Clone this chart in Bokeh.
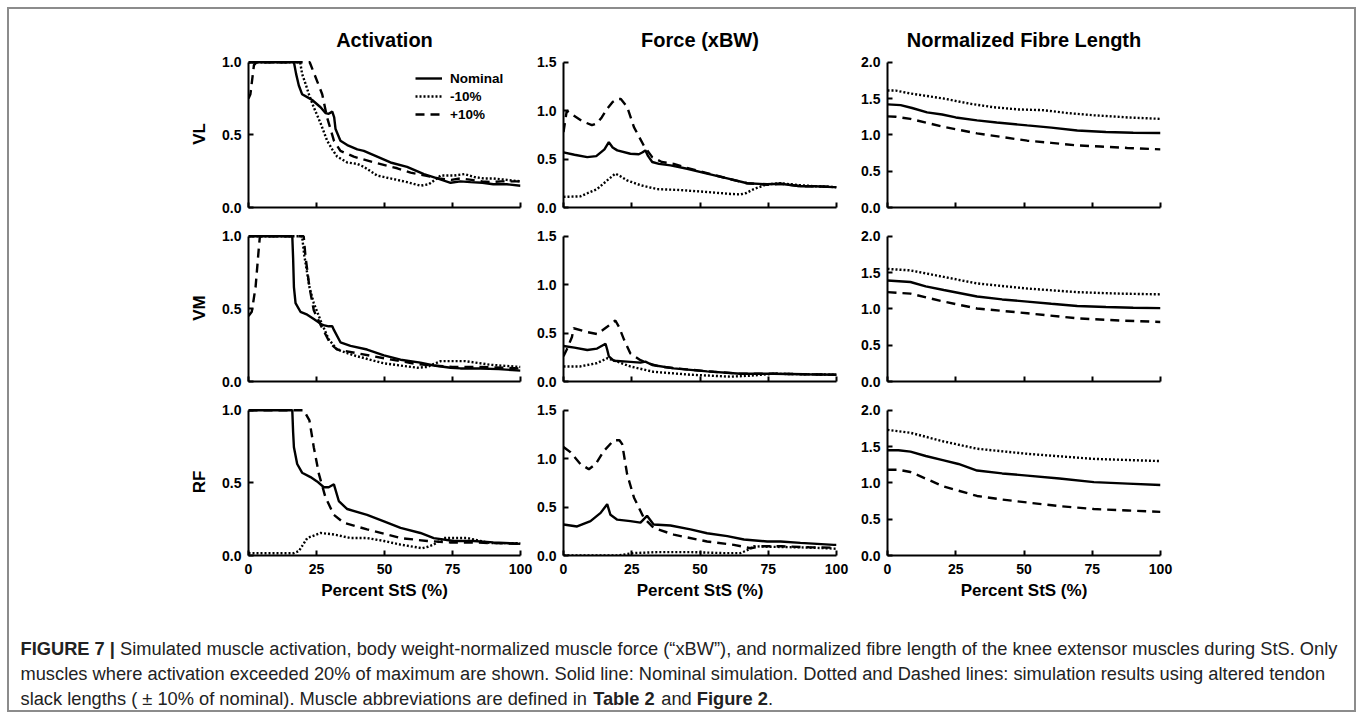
from bokeh.plotting import figure
from bokeh.layouts import column, row
from bokeh.models import Range1d, FixedTicker, NumeralTickFormatter, Legend, LegendItem, ColumnDataSource
from bokeh.core.properties import value
from bokeh.embed import file_html
from bokeh.resources import INLINE

FONT = "Liberation Sans"

# ---------------- data ----------------
x_ticks = [0, 25, 50, 75, 100]
col_titles = ["Activation", "Force (xBW)", "Normalized Fibre Length"]
row_names = ["VL", "VM", "RF"]
col_ymax = [1.0, 1.5, 2.0]
col_yticks = [[0, 0.5, 1.0], [0, 0.5, 1.0, 1.5], [0, 0.5, 1.0, 1.5, 2.0]]
legend_labels = ["Nominal", "-10%", "+10%"]
x_label = "Percent StS (%)"

# Activation VL
act_vl_nom_x = [0, 16.7, 17.5, 18.5, 19.7, 21.6, 23.4, 26.5, 28.3, 29.5, 30.8, 31.5, 32.0, 33.8, 36.3, 40, 42.4, 47.3, 52.2, 58.3, 64.5, 69.4, 74.3, 77.9, 81.6, 86, 90, 95, 100]
act_vl_nom_y = [1.0, 1.0, 0.92, 0.84, 0.78, 0.76, 0.74, 0.69, 0.65, 0.645, 0.66, 0.62, 0.54, 0.46, 0.43, 0.40, 0.39, 0.35, 0.31, 0.28, 0.23, 0.20, 0.17, 0.18, 0.175, 0.17, 0.16, 0.16, 0.15]
act_vl_dot_x = [0, 19.0, 19.7, 21.0, 22.2, 24, 26.5, 28.9, 30.8, 32.6, 36.3, 40, 42.4, 47.3, 52.2, 58.3, 63.2, 66.3, 68.5, 70.6, 75.5, 79.5, 83, 86.5, 90, 95, 100]
act_vl_dot_y = [1.0, 1.0, 0.92, 0.85, 0.78, 0.69, 0.58, 0.46, 0.40, 0.35, 0.31, 0.30, 0.28, 0.22, 0.20, 0.175, 0.15, 0.16, 0.19, 0.22, 0.22, 0.23, 0.21, 0.20, 0.20, 0.19, 0.18]
act_vl_dash_x = [0, 0.7, 2.0, 3, 22.5, 24.6, 27.1, 28.9, 31.4, 33.8, 38.7, 46.1, 54.7, 59.6, 65, 70, 74.6, 77.9, 82, 86, 89, 93, 96, 100]
act_vl_dash_y = [0.75, 0.78, 0.98, 1.0, 1.0, 0.90, 0.78, 0.62, 0.46, 0.39, 0.35, 0.31, 0.27, 0.24, 0.22, 0.20, 0.19, 0.20, 0.19, 0.18, 0.175, 0.18, 0.18, 0.18]

# Force VL
frc_vl_nom_x = [0, 4, 8.7, 12, 15, 16.6, 18, 19.7, 24.5, 27.6, 29, 30, 31, 32.5, 35, 39.2, 45.3, 52.6, 60, 67.3, 74.6, 79.5, 86.8, 92, 99, 100]
frc_vl_nom_y = [0.57, 0.545, 0.52, 0.53, 0.60, 0.675, 0.62, 0.59, 0.555, 0.55, 0.57, 0.59, 0.53, 0.47, 0.45, 0.435, 0.40, 0.35, 0.30, 0.25, 0.24, 0.245, 0.22, 0.22, 0.21, 0.21]
frc_vl_dot_x = [0, 6.2, 9, 12.3, 16, 19, 21, 23.3, 28.2, 34.3, 43, 52.6, 61.2, 64.8, 67, 69.7, 74.6, 79.5, 86.8, 92, 100]
frc_vl_dot_y = [0.11, 0.115, 0.15, 0.19, 0.28, 0.35, 0.32, 0.28, 0.23, 0.19, 0.18, 0.16, 0.14, 0.135, 0.15, 0.19, 0.24, 0.25, 0.23, 0.22, 0.21]
frc_vl_dash_x = [0, 1.2, 2.5, 3.7, 7, 10.4, 12.3, 14, 16, 18, 19.7, 21, 23.3, 25.8, 29.4, 32.5, 36, 40.4, 45, 52.6, 60, 67.3, 74.6, 79.5, 86.8, 92, 100]
frc_vl_dash_y = [0.78, 1.0, 0.97, 0.95, 0.89, 0.85, 0.87, 0.93, 1.02, 1.09, 1.12, 1.12, 1.04, 0.83, 0.64, 0.52, 0.47, 0.45, 0.41, 0.355, 0.30, 0.25, 0.235, 0.245, 0.22, 0.22, 0.21]

# Fibre length VL
fib_vl_nom_x = [0, 4.8, 9, 14.5, 20, 25, 32.8, 40, 51.2, 60, 69.5, 80, 90, 100]
fib_vl_nom_y = [1.42, 1.41, 1.37, 1.31, 1.28, 1.24, 1.20, 1.17, 1.13, 1.10, 1.06, 1.04, 1.03, 1.025]
fib_vl_dot_x = [0, 3, 8.4, 20.6, 30, 39, 48, 57.2, 66, 75.6, 88, 100]
fib_vl_dot_y = [1.61, 1.61, 1.57, 1.50, 1.43, 1.38, 1.35, 1.34, 1.30, 1.27, 1.24, 1.22]
fib_vl_dash_x = [0, 3, 8.4, 20.6, 32.8, 42, 51.2, 60, 69.5, 78, 87.8, 100]
fib_vl_dash_y = [1.255, 1.25, 1.22, 1.11, 1.02, 0.97, 0.92, 0.89, 0.855, 0.84, 0.82, 0.80]

# Activation VM
act_vm_nom_x = [0, 16.1, 16.4, 16.7, 17.3, 19.1, 21.6, 24, 27.1, 29.5, 30.8, 31.4, 33.8, 37.5, 43.6, 49.8, 55.9, 63.2, 68.1, 74.3, 77.9, 85.3, 92, 100]
act_vm_nom_y = [1.0, 1.0, 0.85, 0.65, 0.54, 0.48, 0.46, 0.43, 0.39, 0.38, 0.38, 0.355, 0.27, 0.245, 0.22, 0.18, 0.15, 0.13, 0.11, 0.095, 0.09, 0.09, 0.085, 0.075]
act_vm_dot_x = [0, 19.7, 20.5, 22.4, 24, 26.5, 29.5, 32.6, 38.7, 49.8, 62, 65.7, 68, 70.6, 75, 79.8, 89, 100]
act_vm_dot_y = [1.0, 1.0, 0.87, 0.65, 0.54, 0.42, 0.29, 0.22, 0.18, 0.125, 0.095, 0.10, 0.12, 0.14, 0.14, 0.14, 0.115, 0.10]
act_vm_dash_x = [0, 1.2, 2.6, 3.8, 4.2, 20.3, 20.9, 22.4, 24, 26.5, 30.1, 32.6, 39.9, 49.8, 62, 68, 75, 85, 100]
act_vm_dash_y = [0.45, 0.48, 0.65, 0.92, 1.0, 1.0, 0.87, 0.65, 0.49, 0.39, 0.26, 0.22, 0.195, 0.16, 0.12, 0.11, 0.10, 0.10, 0.09]

# Force VM
frc_vm_nom_x = [0, 4, 8.7, 12.3, 15.4, 16.0, 16.6, 18.4, 23.3, 28.2, 30, 32.5, 40.4, 52.6, 64.8, 77, 88, 100]
frc_vm_nom_y = [0.367, 0.35, 0.325, 0.34, 0.39, 0.33, 0.26, 0.215, 0.205, 0.195, 0.205, 0.17, 0.135, 0.105, 0.08, 0.08, 0.075, 0.07]
frc_vm_dot_x = [0, 6, 12.3, 16, 19.7, 24.5, 33, 46.5, 61.2, 68.5, 77, 88, 100]
frc_vm_dot_y = [0.155, 0.155, 0.19, 0.24, 0.205, 0.155, 0.10, 0.07, 0.05, 0.06, 0.08, 0.075, 0.07]
frc_vm_dash_x = [0, 1.2, 3.1, 3.7, 8.7, 12.3, 16, 19, 20.3, 22.2, 24.5, 28.2, 30.9, 35, 45, 55, 65, 77, 100]
frc_vm_dash_y = [0.26, 0.33, 0.46, 0.55, 0.51, 0.49, 0.565, 0.63, 0.565, 0.43, 0.29, 0.22, 0.19, 0.155, 0.125, 0.10, 0.08, 0.08, 0.07]

# Fibre length VM
fib_vm_nom_x = [0, 8.4, 14, 20.6, 32.8, 42, 51.2, 60, 69.5, 80, 90, 100]
fib_vm_nom_y = [1.39, 1.37, 1.31, 1.26, 1.17, 1.13, 1.10, 1.07, 1.04, 1.025, 1.015, 1.01]
fib_vm_dot_x = [0, 8.4, 20.6, 32.8, 51.2, 69.5, 85, 100]
fib_vm_dot_y = [1.55, 1.53, 1.44, 1.35, 1.28, 1.23, 1.21, 1.20]
fib_vm_dash_x = [0, 8.4, 20.6, 32.8, 51.2, 69.5, 85, 100]
fib_vm_dash_y = [1.23, 1.21, 1.10, 1.005, 0.94, 0.87, 0.84, 0.82]

# Activation RF
act_rf_nom_x = [0, 16.1, 16.4, 16.7, 17.9, 19.7, 22.8, 25.2, 27.7, 29.5, 31.4, 33.2, 36.3, 43.6, 49.8, 55.9, 63.2, 68.1, 75.5, 82.8, 90, 100]
act_rf_nom_y = [1.0, 1.0, 0.85, 0.745, 0.63, 0.57, 0.54, 0.51, 0.47, 0.47, 0.49, 0.375, 0.32, 0.28, 0.235, 0.19, 0.155, 0.12, 0.10, 0.10, 0.09, 0.08]
act_rf_dot_x = [0, 16.7, 18.5, 21.6, 26.5, 31.4, 37.5, 43.6, 49.8, 55.9, 63.9, 66, 68.1, 71.8, 80.4, 89, 100]
act_rf_dot_y = [0.016, 0.016, 0.03, 0.12, 0.155, 0.145, 0.12, 0.12, 0.10, 0.075, 0.05, 0.06, 0.075, 0.12, 0.12, 0.085, 0.085]
act_rf_dash_x = [0, 20.3, 22.4, 24, 25.9, 28.3, 31.4, 35, 43.6, 55.9, 65.7, 74, 82, 90, 100]
act_rf_dash_y = [1.0, 1.0, 0.93, 0.745, 0.56, 0.40, 0.28, 0.225, 0.18, 0.12, 0.10, 0.09, 0.09, 0.085, 0.08]

# Force RF
frc_rf_nom_x = [0, 5, 9.9, 13.6, 16.0, 17.2, 19.7, 24.5, 28.2, 30.6, 33, 39.2, 46.5, 52.6, 60, 66.1, 74.6, 79.5, 86.8, 99, 100]
frc_rf_nom_y = [0.32, 0.30, 0.355, 0.44, 0.53, 0.42, 0.37, 0.355, 0.34, 0.41, 0.32, 0.31, 0.27, 0.23, 0.20, 0.165, 0.145, 0.145, 0.13, 0.11, 0.11]
frc_rf_dot_x = [0, 19.7, 25.8, 34.3, 46.5, 58.6, 64.8, 67, 69.7, 76, 85, 92, 100]
frc_rf_dot_y = [0.0, 0.0, 0.025, 0.035, 0.035, 0.025, 0.025, 0.05, 0.095, 0.09, 0.085, 0.08, 0.07]
frc_rf_dash_x = [0, 2.4, 6.2, 9.3, 11.8, 14.8, 18.4, 20.5, 21.5, 23.3, 25.8, 29.4, 33, 40.4, 52.6, 62.4, 68.5, 72.2, 80, 90, 100]
frc_rf_dash_y = [1.12, 1.07, 0.945, 0.89, 0.945, 1.08, 1.19, 1.19, 1.15, 0.84, 0.60, 0.39, 0.285, 0.215, 0.145, 0.11, 0.075, 0.095, 0.095, 0.085, 0.08]

# Fibre length RF
fib_rf_nom_x = [0, 4, 8.4, 14, 20.6, 26, 32.8, 42, 51.2, 63, 75.6, 88, 100]
fib_rf_nom_y = [1.45, 1.45, 1.43, 1.37, 1.31, 1.26, 1.17, 1.13, 1.10, 1.06, 1.01, 0.99, 0.97]
fib_rf_dot_x = [0, 8.4, 20.6, 32.8, 51.2, 75.6, 100]
fib_rf_dot_y = [1.73, 1.69, 1.57, 1.47, 1.40, 1.33, 1.30]
fib_rf_dash_x = [0, 4, 8.4, 20.6, 32.8, 42, 51.2, 63, 75.6, 88, 100]
fib_rf_dash_y = [1.18, 1.18, 1.15, 0.95, 0.82, 0.77, 0.73, 0.68, 0.64, 0.62, 0.60]

caption_line1 = [("FIGURE 7 |", True), (" Simulated muscle activation, body weight-normalized muscle force (\u201cxBW\u201d), and normalized fibre length of the knee extensor muscles during StS. Only", False)]
caption_line2 = [("muscles where activation exceeded 20% of maximum are shown. Solid line: Nominal simulation. Dotted and Dashed lines: simulation results using altered tendon", False)]
caption_line3 = [("slack lengths ( \u00b1 10% of nominal). Muscle abbreviations are defined in ", False), ("Table 2", True), (" and ", False), ("Figure 2", True), (".", False)]

# ---------------- assemble ----------------
series = {
    (0, 0): [(act_vl_nom_x, act_vl_nom_y), (act_vl_dot_x, act_vl_dot_y), (act_vl_dash_x, act_vl_dash_y)],
    (0, 1): [(frc_vl_nom_x, frc_vl_nom_y), (frc_vl_dot_x, frc_vl_dot_y), (frc_vl_dash_x, frc_vl_dash_y)],
    (0, 2): [(fib_vl_nom_x, fib_vl_nom_y), (fib_vl_dot_x, fib_vl_dot_y), (fib_vl_dash_x, fib_vl_dash_y)],
    (1, 0): [(act_vm_nom_x, act_vm_nom_y), (act_vm_dot_x, act_vm_dot_y), (act_vm_dash_x, act_vm_dash_y)],
    (1, 1): [(frc_vm_nom_x, frc_vm_nom_y), (frc_vm_dot_x, frc_vm_dot_y), (frc_vm_dash_x, frc_vm_dash_y)],
    (1, 2): [(fib_vm_nom_x, fib_vm_nom_y), (fib_vm_dot_x, fib_vm_dot_y), (fib_vm_dash_x, fib_vm_dash_y)],
    (2, 0): [(act_rf_nom_x, act_rf_nom_y), (act_rf_dot_x, act_rf_dot_y), (act_rf_dash_x, act_rf_dash_y)],
    (2, 1): [(frc_rf_nom_x, frc_rf_nom_y), (frc_rf_dot_x, frc_rf_dot_y), (frc_rf_dash_x, frc_rf_dash_y)],
    (2, 2): [(fib_rf_nom_x, fib_rf_nom_y), (fib_rf_dot_x, fib_rf_dot_y), (fib_rf_dash_x, fib_rf_dash_y)],
}
styles = [dict(line_dash="solid"), dict(line_dash="2 2"), dict(line_dash="9 6")]

col_geo = [(533, 248, 13), (321, 30, 18), (509, 33, 203)]   # width, border left, border right
row_geo = [(221, 60, 14), (175, 13, 15), (216, 12, 57)]     # height, border top, border bottom

TICK_SIZE = "14px"


def make_panel(r, c):
    w, bl, br = col_geo[c]
    h, bt, bb = row_geo[r]
    ymax = col_ymax[c]
    p = figure(width=w, height=h, x_range=Range1d(0, 100), y_range=Range1d(0, ymax * 1.012),
               output_backend="svg", toolbar_location=None,
               min_border_left=bl, min_border_right=br, min_border_top=bt, min_border_bottom=bb)
    p.grid.visible = False
    p.outline_line_color = None
    p.background_fill_color = None
    p.border_fill_color = None
    for ax in (p.xaxis[0], p.yaxis[0]):
        ax.axis_line_width = 2
        ax.axis_line_color = "black"
        ax.major_tick_in = 5
        ax.major_tick_out = 0
        ax.major_tick_line_width = 2
        ax.major_tick_line_color = "black"
        ax.minor_tick_line_color = None
        ax.major_label_text_font = FONT
        ax.major_label_text_font_style = "bold"
        ax.major_label_text_font_size = TICK_SIZE
        ax.major_label_text_color = "black"
        ax.axis_label_text_font = FONT
        ax.axis_label_text_font_style = "bold"
        ax.axis_label_text_color = "black"
    p.xaxis.ticker = FixedTicker(ticks=x_ticks)
    p.xaxis.formatter = NumeralTickFormatter(format="0")
    p.yaxis.ticker = FixedTicker(ticks=col_yticks[c])
    p.yaxis.formatter = NumeralTickFormatter(format="0.0")
    p.yaxis.bounds = (0, ymax)
    p.yaxis.major_label_standoff = 7
    if r < 2:
        # tick marks only, no tick labels on the upper rows
        p.xaxis.major_label_text_color = None
        p.xaxis.major_label_text_alpha = 0
        p.xaxis.major_label_text_font_size = "1px"
        p.xaxis.major_label_standoff = 0
    else:
        p.xaxis.major_label_standoff = 8
        p.xaxis.axis_label = x_label
        p.xaxis.axis_label_text_font_size = "17px"
        p.xaxis.axis_label_standoff = 4
    if c == 0:
        p.yaxis.axis_label = row_names[r]
        p.yaxis.axis_label_text_font_size = "17px"
        p.yaxis.axis_label_standoff = 10
    if r == 0:
        p.title.text = col_titles[c]
        p.title.align = "center"
        p.title.text_font = FONT
        p.title.text_font_style = "bold"
        p.title.text_font_size = "20px"
        p.title.text_color = "black"
        p.title.standoff = 19
    rends = []
    for (xs, ys), st in zip(series[(r, c)], styles):
        rends.append(p.line(xs, ys, line_color="black", line_width=2.4, **st))
    if r == 0 and c == 0:
        leg = Legend(items=[LegendItem(label=lab, renderers=[rd]) for lab, rd in zip(legend_labels, rends)],
                     location=(167, 84), padding=0, margin=0, spacing=0,
                     label_height=18, glyph_height=18, glyph_width=27, label_standoff=8,
                     background_fill_alpha=0, border_line_color=None,
                     label_text_font=FONT, label_text_font_style="bold",
                     label_text_font_size="13.5px", label_text_color="black")
        p.add_layout(leg)
    return p


rows = []
for r in range(3):
    rows.append(row(*[make_panel(r, c) for c in range(3)]))

# ---------------- caption ----------------
REG_W = {' ': 278, ',': 278, '.': 278, '-': 333, '(': 333, ')': 333, '\u201c': 333, '\u201d': 333,
         ':': 278, '%': 889, '\u00b1': 584, '|': 260}
BOLD_W = {' ': 278, '|': 280, '.': 278}
for ch in "0123456789":
    REG_W[ch] = 556
    BOLD_W[ch] = 556
for ch, wv in zip("ABCDEFGHIJKLMNOPQRSTUVWXYZ",
                  [667, 667, 722, 722, 667, 611, 778, 722, 278, 500, 667, 556, 833, 722, 778, 667, 778, 722, 667, 611, 722, 667, 944, 667, 667, 611]):
    REG_W[ch] = wv
for ch, wv in zip("abcdefghijklmnopqrstuvwxyz",
                  [556, 556, 500, 556, 556, 278, 556, 556, 222, 222, 500, 222, 833, 556, 556, 556, 556, 333, 500, 278, 556, 500, 722, 500, 500, 500]):
    REG_W[ch] = wv
for ch, wv in zip("ABCDEFGHIJKLMNOPQRSTUVWXYZ",
                  [722, 722, 722, 722, 667, 611, 778, 722, 278, 556, 722, 611, 833, 722, 778, 667, 778, 722, 667, 611, 722, 667, 944, 667, 667, 611]):
    BOLD_W[ch] = wv
for ch, wv in zip("abcdefghijklmnopqrstuvwxyz",
                  [556, 611, 556, 611, 556, 333, 611, 611, 278, 278, 556, 278, 889, 611, 611, 611, 611, 389, 556, 333, 611, 556, 778, 556, 556, 500]):
    BOLD_W[ch] = wv


def units(s, bold):
    tab = BOLD_W if bold else REG_W
    return sum(tab.get(ch, 556) for ch in s)


line1_units = sum(units(s, b) for s, b in caption_line1)
cap_size = 1318.0 / (line1_units / 1000.0)

cap = figure(width=1363, height=107, x_range=Range1d(0, 1363), y_range=Range1d(107, 0),
             x_axis_location=None, y_axis_location=None, output_backend="svg",
             toolbar_location=None, min_border=0)
cap.grid.visible = False
cap.outline_line_color = None
cap.background_fill_color = None
cap.border_fill_color = None

reg = dict(x=[], y=[], text=[])
bld = dict(x=[], y=[], text=[])
for line, yy in ((caption_line1, 36), (caption_line2, 61), (caption_line3, 86)):
    xx = 20.0
    for s, b in line:
        core = s.strip(" ")
        lead = len(s) - len(s.lstrip(" "))
        trail = len(s) - len(s.rstrip(" "))
        xx += units(" " * lead, b) * cap_size / 1000.0
        d = bld if b else reg
        d["x"].append(xx)
        d["y"].append(yy)
        d["text"].append(core)
        xx += units(core, b) * cap_size / 1000.0
        xx += units(" " * trail, b) * cap_size / 1000.0
for d, st in ((reg, "normal"), (bld, "bold")):
    cap.text(x="x", y="y", text="text", source=ColumnDataSource(d), text_font=value(FONT),
             text_font_style=st, text_font_size="%.2fpx" % cap_size, text_color="#222222",
             text_baseline="middle", text_align="left")

root = column(*rows, cap, styles={"outline": "2px solid #8c8c8c", "outline-offset": "-9px"})

open("out.html", "w").write(file_html(root, INLINE))
